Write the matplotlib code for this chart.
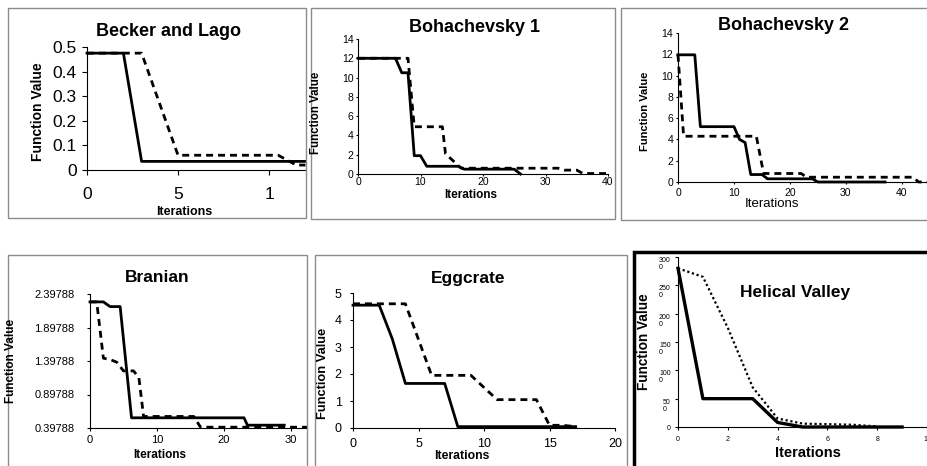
import matplotlib
matplotlib.use("Agg")
import matplotlib.pyplot as plt
from matplotlib.patches import Rectangle

W, H = 927, 466

# Becker and Lago
becker_x_a = [0, 2, 3, 12]
becker_y_a = [0.475, 0.475, 0.035, 0.035]
becker_x_b = [0, 3, 5, 10.5, 11.5, 12]
becker_y_b = [0.475, 0.475, 0.06, 0.06, 0.02, 0.02]

# Bohachevsky 1
boh1_x_a = [0, 6, 7, 8, 9, 10, 11, 16, 17, 25, 26]
boh1_y_a = [12, 12, 10.5, 10.5, 1.9, 1.9, 0.8, 0.8, 0.5, 0.5, 0]
boh1_x_b = [0, 8, 9, 13.5, 14, 16.5, 32, 33, 35, 36, 40]
boh1_y_b = [12, 12, 4.9, 4.9, 2.1, 0.6, 0.6, 0.4, 0.4, 0.05, 0.05]

# Bohachevsky 2
boh2_x_a = [0, 3, 4, 10, 11, 12, 13, 15, 16, 24, 25, 37]
boh2_y_a = [11.95, 11.95, 5.2, 5.2, 4.0, 3.7, 0.7, 0.7, 0.3, 0.3, 0, 0]
boh2_x_b = [0, 1, 14, 15.3, 22, 23, 42, 43, 44.5]
boh2_y_b = [11.95, 4.3, 4.3, 0.8, 0.8, 0.45, 0.45, 0, 0]

# Branian
bran_x_a = [0, 2, 3, 4.5, 6.2, 23, 23.5, 29]
bran_y_a = [2.28, 2.28, 2.21, 2.21, 0.55, 0.55, 0.44, 0.44]
bran_x_b = [0, 1, 2, 3, 4, 5, 6.5, 7.3, 8, 15.5, 16.5, 32.4]
bran_y_b = [2.28, 2.28, 1.44, 1.42, 1.38, 1.25, 1.25, 1.15, 0.57, 0.57, 0.41, 0.41]
bran_ticks = [0.39788, 0.89788, 1.39788, 1.89788, 2.39788]

# Eggcrate
egg_x_a = [0, 2, 3, 4, 7, 8, 17]
egg_y_a = [4.55, 4.55, 3.3, 1.65, 1.65, 0.05, 0.05]
egg_x_b = [0, 4, 6, 9, 11, 14, 15, 16, 17]
egg_y_b = [4.6, 4.6, 1.95, 1.95, 1.05, 1.05, 0.1, 0.1, 0.05]

# Helical Valley
hel_x_a = [0, 1, 3, 4, 5, 9]
hel_y_a = [2800, 500, 500, 80, 0, 0]
hel_x_b = [0, 1, 2, 3, 4, 5, 6, 7, 8]
hel_y_b = [2800, 2650, 1750, 700, 150, 60, 50, 40, 10]
hel_ticks = [0, 500, 1000, 1500, 2000, 2500, 3000]
hel_ticklabels = ["0", "50\n0", "100\n0", "150\n0", "200\n0", "250\n0", "300\n0"]

plt.rcParams['font.family'] = ['Liberation Sans', 'DejaVu Sans']

fig = plt.figure(figsize=(W / 100, H / 100), dpi=100)


def rect(x0, y0, x1, y1):
    # pixel box (top-left origin) -> figure fraction
    return [x0 / W, 1 - y1 / H, (x1 - x0) / W, (y1 - y0) / H]


def put(x, y, s, size, bold=True, rot=0, ha='center'):
    fig.text(x / W, 1 - y / H, s, fontsize=size, ha=ha, va='center',
             rotation=rot, fontweight='bold' if bold else 'normal')


def frame(x0, y0, x1, y1, color='#8c8c8c', lw=1.0):
    fig.add_artist(Rectangle((x0 / W, 1 - y1 / H), (x1 - x0) / W, (y1 - y0) / H,
                             transform=fig.transFigure, fill=False,
                             edgecolor=color, linewidth=lw))


def panel(box, xlim, ylim, size, xpad, ypad, tick=2.2):
    ax = fig.add_axes(rect(*box))
    ax.set_xlim(*xlim)
    ax.set_ylim(*ylim)
    ax.patch.set_alpha(0)
    for side in ('top', 'right'):
        ax.spines[side].set_visible(False)
    for side in ('left', 'bottom'):
        ax.spines[side].set_linewidth(0.8)
    ax.tick_params(direction='out', length=tick, width=0.8, labelsize=size,
                   colors='black')
    ax.tick_params(axis='x', pad=xpad)
    ax.tick_params(axis='y', pad=ypad)
    return ax


def draw(ax, xa, ya, xb, yb, lw=2.0):
    ax.plot(xa, ya, color='black', lw=lw, clip_on=False)
    ax.plot(xb, yb, color='black', lw=lw, linestyle=(0, (2.5, 1.8)),
            clip_on=False)


# frames
frame(8, 8, 306, 218)
frame(311, 8, 615, 219)
frame(621, 8, 940, 220)
frame(8, 255, 307, 480)
frame(315, 255, 627, 480)
frame(634, 252, 945, 480, color='black', lw=2.5)

# Becker and Lago
ax = panel((87, 47, 306, 170), (0, 12.03), (0, 0.5), 12.5, 9, 4, tick=3.5)
draw(ax, becker_x_a, becker_y_a, becker_x_b, becker_y_b)
ax.set_xticks([0, 5, 10])
ax.set_xticklabels(["0", "5", "1"])
ax.set_yticks([0, 0.1, 0.2, 0.3, 0.4, 0.5])
ax.set_yticklabels(["0", "0.1", "0.2", "0.3", "0.4", "0.5"])
put(168, 32, "Becker and Lago", 13)
put(38, 112, "Function Value", 10, rot=90)
put(184, 212, "Iterations", 9)

# Bohachevsky 1
ax = panel((358, 39, 608, 174), (0, 40), (0, 14), 7.5, 0.5, 1.5, tick=1.6)
draw(ax, boh1_x_a, boh1_y_a, boh1_x_b, boh1_y_b)
ax.set_xticks([0, 10, 20, 30, 40])
ax.set_yticks(range(0, 15, 2))
put(475, 27, "Bohachevsky 1", 13)
put(316, 113, "Function Value", 8.3, rot=90)
put(471, 195, "Iterations", 8.5)

# Bohachevsky 2
ax = panel((678, 33, 927, 182), (0, 44.5), (0, 14), 7.5, 2.5, 2, tick=1.6)
draw(ax, boh2_x_a, boh2_y_a, boh2_x_b, boh2_y_b)
ax.set_xticks([0, 10, 20, 30, 40])
ax.set_yticks(range(0, 15, 2))
put(783, 26, "Bohachevsky 2", 13)
put(645, 111, "Function Value", 8, rot=90)
put(772, 204, "Iterations", 9.5, bold=False)

# Branian
ax = panel((90, 294, 307, 428), (0, 32.4), (0.39788, 2.39788), 8, 2.5, 9)
draw(ax, bran_x_a, bran_y_a, bran_x_b, bran_y_b)
ax.set_xticks([0, 10, 20, 30])
ax.set_yticks(bran_ticks)
ax.set_yticklabels([f"{v:.5f}" for v in bran_ticks])
put(157, 278, "Branian", 12.5)
put(11, 361, "Function Value", 8.5, rot=90)
put(160, 455, "Iterations", 8.5)

# Eggcrate
ax = panel((353, 293, 615, 428), (0, 20), (0, 5), 9, 5, 6)
draw(ax, egg_x_a, egg_y_a, egg_x_b, egg_y_b)
ax.set_xticks([0, 5, 10, 15, 20])
ax.set_yticks(range(0, 6))
put(468, 278, "Eggcrate", 12.5)
put(323, 373, "Function Value", 9.3, rot=90)
put(462, 456, "Iterations", 8.8)

# Helical Valley
ax = panel((678, 257, 927, 427), (0, 10), (0, 3000), 5, 4, 3)
ax.plot(hel_x_a, hel_y_a, color='black', lw=2.4, clip_on=False)
ax.plot(hel_x_b, hel_y_b, color='black', lw=1.6, linestyle=(0, (1, 1.2)),
        clip_on=False)
ax.set_xticks([0, 2, 4, 6, 8, 10])
ax.set_yticks(hel_ticks)
ax.set_yticklabels(hel_ticklabels, linespacing=1.0, multialignment='left')
# wrapped labels hang below their tick, first line level with it
for lab in ax.get_yticklabels()[1:]:
    lab.set_verticalalignment('top')
put(795, 293, "Helical Valley", 12.5)
put(644, 342, "Function Value", 9.8, rot=90)
put(808, 453, "Iterations", 10.5)

fig.savefig("out.png", dpi=100)
